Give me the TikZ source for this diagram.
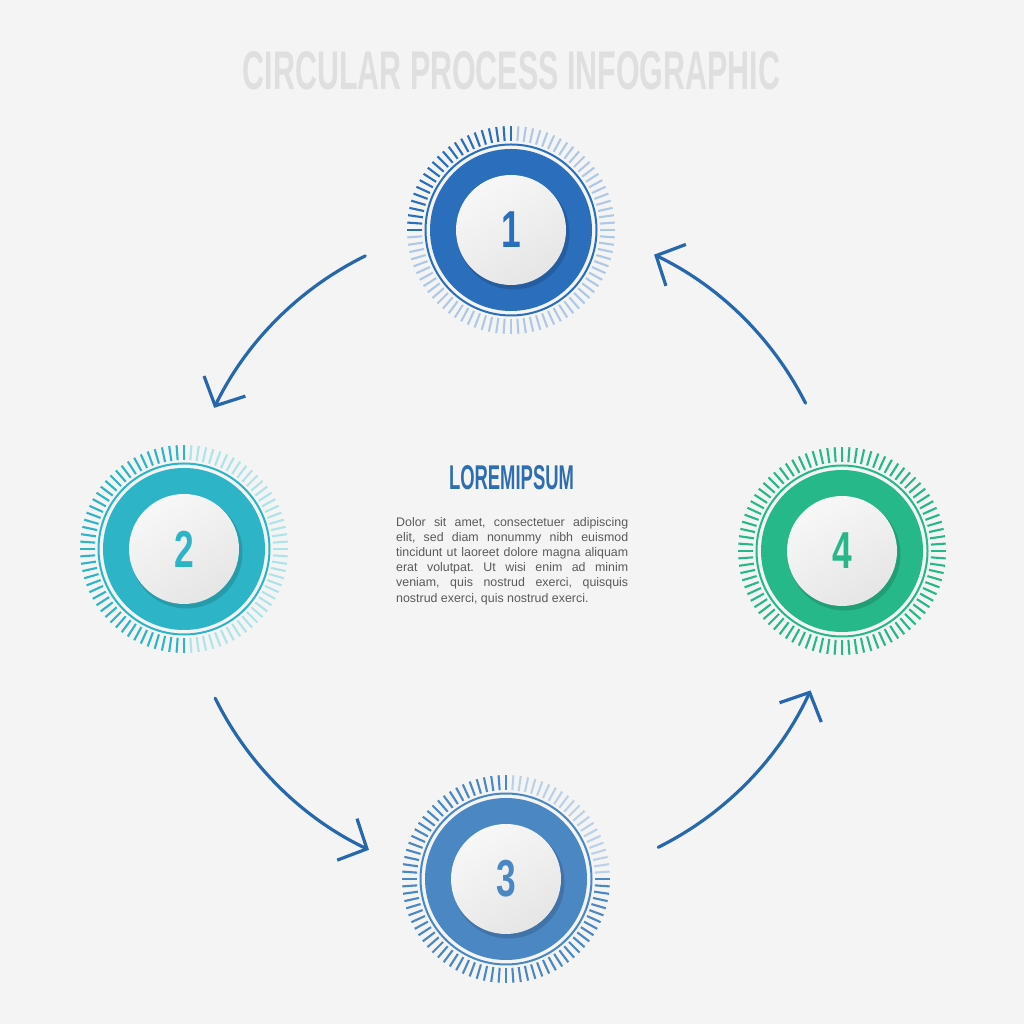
\documentclass[tikz,border=0pt]{standalone}
\usepackage{fontspec}
\setmainfont{Liberation Sans}
\usetikzlibrary{arrows.meta,calc}
\definecolor{bg}{HTML}{F4F4F4}
\definecolor{cA}{HTML}{2B6EBB}
\definecolor{cB}{HTML}{2DB5C7}
\definecolor{cC}{HTML}{4B87C3}
\definecolor{cD}{HTML}{27B88A}
\definecolor{arrowc}{HTML}{2767AB}
\definecolor{titlec}{HTML}{DFDFDF}
\definecolor{headc}{HTML}{2E6DAF}
\definecolor{bodyc}{HTML}{5A5A5A}
\tikzset{
  conn/.style={draw=arrowc, line width=3.2pt, line cap=round,
    -{Straight Barb[length=22pt,width=46pt,line width=3.2pt]}},
  tickline/.style={line width=2.1pt},
  face/.style={circle, inner sep=0pt, minimum size=110pt, shading=axis,
    top color=white!97!black, bottom color=white!90!black, shading angle=30},
  digit/.style={font=\bfseries\fontsize{52}{52}\selectfont, xscale=0.68, inner sep=0pt},
}
\newcommand\badge[5]{%
  \begin{scope}[shift={#2}]
    \foreach \i in {0,...,87}{%
      \pgfmathsetmacro\ang{90+360/88*\i}%
      \ifnum\i<#5\relax\def\tc{#3}\else\def\tc{#3!38!white}\fi
      \draw[tickline,color=\tc] (\ang:89) -- (\ang:104);
    }
    \draw[#3, line width=2pt] (0,0) circle (85.5);
    \fill[#3] (0,0) circle (81);
    \fill[black, opacity=0.14] (2.5,-3.5) circle (56);
    \node[face] (#1) at (0,0) {};
    \node[digit, text=#3] (#1n) at (0,0) {#4};
  \end{scope}}
\begin{document}
\frenchspacing
\begin{tikzpicture}[x=1pt,y=1pt]
  \fill[bg] (0,0) rectangle (1024,1024);
  \useasboundingbox (0,0) rectangle (1024,1024);

  \node[inner sep=0pt, text=titlec] (title) at (511.5,953)
    {\resizebox{537pt}{38pt}{\bfseries CIRCULAR PROCESS INFOGRAPHIC}};

  \badge{b1}{(511,794)}{cA}{1}{23}
  \badge{b2}{(184,475)}{cB}{2}{45}
  \badge{b3}{(506,145)}{cC}{3}{67}
  \badge{b4}{(842,473)}{cD}{4}{88}

  \node[inner sep=0pt, text=headc] (head) at (511.5,546.5)
    {\resizebox{125pt}{24pt}{\bfseries LOREMIPSUM}};
  \node[anchor=north west, inner sep=0pt, align=left, text=bodyc,
        font=\fontsize{12.4}{15.2}\selectfont] (body) at (396,507)
    {\makebox[232pt][s]{Dolor sit amet, consectetuer adipiscing}\\
     \makebox[232pt][s]{elit, sed diam nonummy nibh euismod}\\
     \makebox[232pt][s]{tincidunt ut laoreet dolore magna aliquam}\\
     \makebox[232pt][s]{erat volutpat. Ut wisi enim ad minim}\\
     \makebox[232pt][s]{veniam, quis nostrud exerci, quisquis}\\
     nostrud exerci, quis nostrud exerci.};

  \coordinate (ctr) at (511,472);
  \coordinate (a1s) at ($(ctr)+(116.2:330)$);
  \coordinate (a1e) at ($(ctr)+(154.1:330)$);
  \coordinate (a2s) at ($(ctr)+(206.3:330)$);
  \coordinate (a2e) at ($(ctr)+(244.5:330)$);
  \coordinate (a3s) at ($(ctr)+(296.5:330)$);
  \coordinate (a3e) at ($(ctr)+(335.2:330)$);
  \coordinate (a4s) at ($(ctr)+(26.8:330)$);
  \coordinate (a4e) at ($(ctr)+(64.3:330)$);
  \draw[conn] (a1s) arc[start angle=116.2, end angle=154.1, radius=330];
  \draw[conn] (a2s) arc[start angle=206.3, end angle=244.5, radius=330];
  \draw[conn] (a3s) arc[start angle=296.5, end angle=335.2, radius=330];
  \draw[conn] (a4s) arc[start angle=26.8, end angle=64.3, radius=330];
\end{tikzpicture}
\end{document}
